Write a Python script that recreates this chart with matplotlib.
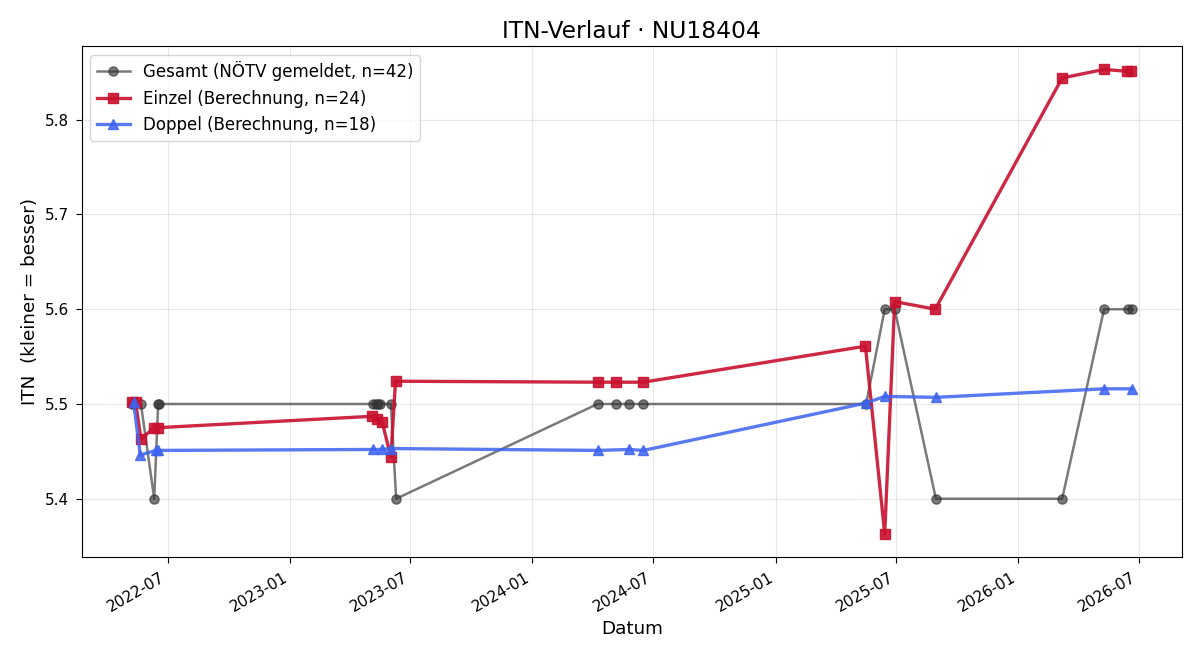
import matplotlib
matplotlib.use("Agg")
import matplotlib.pyplot as plt
import matplotlib.dates as mdates
import pandas as pd

gesamt_dates = ["2022-05-08", "2022-05-11", "2022-05-22", "2022-06-11", "2022-06-17", "2022-06-18",
                "2023-05-06", "2023-05-10", "2023-05-13", "2023-05-17", "2023-06-02", "2023-06-10",
                "2024-04-08", "2024-05-05", "2024-05-26", "2024-06-16",
                "2025-05-17", "2025-06-14", "2025-06-29", "2025-08-30",
                "2026-03-08", "2026-05-10", "2026-06-15", "2026-06-21"]
gesamt_vals = [5.5, 5.5, 5.5, 5.4, 5.5, 5.5,
               5.5, 5.5, 5.5, 5.5, 5.5, 5.4,
               5.5, 5.5, 5.5, 5.5,
               5.5, 5.6, 5.6, 5.4,
               5.4, 5.6, 5.6, 5.6]

einzel_dates = ["2022-05-08", "2022-05-14", "2022-05-22", "2022-06-11", "2022-06-17",
                "2023-05-05", "2023-05-12", "2023-05-20", "2023-06-02", "2023-06-09",
                "2024-04-08", "2024-05-05", "2024-06-16",
                "2025-05-16", "2025-06-14", "2025-06-29", "2025-08-29",
                "2026-03-08", "2026-05-10", "2026-06-14", "2026-06-20"]
einzel_vals = [5.502, 5.502, 5.463, 5.475, 5.475,
               5.487, 5.484, 5.481, 5.444, 5.524,
               5.523, 5.523, 5.523,
               5.561, 5.363, 5.608, 5.600,
               5.844, 5.853, 5.851, 5.851]

doppel_dates = ["2022-05-11", "2022-05-21", "2022-06-13", "2022-06-17",
                "2023-05-06", "2023-05-20", "2023-06-02",
                "2024-04-08", "2024-05-26", "2024-06-16",
                "2025-05-17", "2025-06-14", "2025-08-30",
                "2026-05-10", "2026-06-21"]
doppel_vals = [5.502, 5.446, 5.451, 5.451,
               5.452, 5.452, 5.453,
               5.451, 5.452, 5.451,
               5.501, 5.508, 5.507,
               5.516, 5.516]

fig, ax = plt.subplots(figsize=(12, 6.6), dpi=100)
ax.plot(pd.to_datetime(gesamt_dates), gesamt_vals, color="#333333", alpha=0.65, marker="o",
        markersize=6.6, linewidth=1.8, label="Gesamt (NÖTV gemeldet, n=42)")
ax.plot(pd.to_datetime(einzel_dates), einzel_vals, color="#C8102E", alpha=0.9, marker="s",
        markersize=7.6, linewidth=2.4, label="Einzel (Berechnung, n=24)")
ax.plot(pd.to_datetime(doppel_dates), doppel_vals, color="#3D63F0", alpha=0.85, marker="^",
        markersize=7.8, linewidth=2.4, label="Doppel (Berechnung, n=18)")

ax.set_title("ITN-Verlauf · NU18404", fontsize=16.8)
ax.set_xlabel("Datum", fontsize=13.2)
ax.set_ylabel("ITN  (kleiner = besser)", fontsize=13.2)
ax.grid(True, alpha=0.3)
ax.xaxis.set_major_locator(mdates.MonthLocator(bymonth=[1, 7]))
ax.xaxis.set_major_formatter(mdates.DateFormatter("%Y-%m"))
ax.tick_params(labelsize=11, length=4.5, pad=4.5)
ax.legend(loc="upper left", fontsize=12)
fig.autofmt_xdate()
fig.subplots_adjust(left=0.068, right=0.985, top=0.930, bottom=0.156)
fig.savefig("out.png", dpi=100)
